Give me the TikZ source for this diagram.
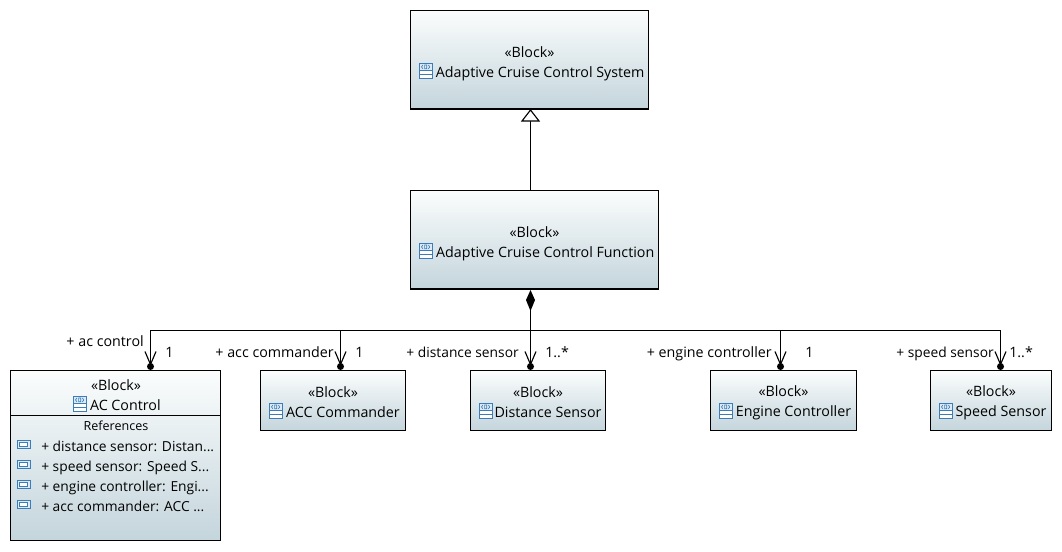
\documentclass[tikz,border=0pt]{standalone}
\usepackage{fontspec}
\setmainfont{Open Sans}
\usetikzlibrary{calc}
\definecolor{boxtop}{HTML}{FBFDFD}
\definecolor{boxbot}{HTML}{C4D5DC}
\definecolor{iconblue}{HTML}{3A7DB8}
\definecolor{iconfill}{HTML}{DCEAF5}
\newcommand{\lbl}{\fontsize{10.7pt}{15pt}\selectfont}
\newcommand{\lblitem}{\fontsize{10.35pt}{15pt}\selectfont}
\newcommand{\bigup}{\rule{0pt}{14pt}}
\newcommand{\smallup}{\rule{0pt}{11.2pt}}
\tikzset{
  x=0.75pt,y=-0.75pt,
  blockbox/.style={draw=black,line width=1pt,top color=boxtop,bottom color=boxbot,inner sep=0pt,outer sep=0pt,
    align=center,font=\lbl,anchor=north west},
  rolelabel/.style={font=\lbl,inner sep=0pt,anchor=base east,text=black},
  narrowrole/.style={rolelabel,font=\lblitem},
  multlabel/.style={font=\lbl,inner sep=0pt,anchor=base west,text=black},
  itemlabel/.style={font=\lblitem,inner sep=0pt,anchor=base west},
  conn/.style={draw=black,line width=0.85pt},
  blockicon/.pic={
    \draw[iconblue,line width=0.7pt,fill=white] (0,-7.5) rectangle (12.7,7.5);
    \fill[iconfill] (0.5,-7) rectangle (12.2,0);
    \draw[iconblue,line width=0.7pt] (0,0) -- (12.7,0) (0,3.7) -- (12.7,3.7);
    \draw[iconblue,line width=0.5pt] (3.6,-5.5) -- (2.2,-3.6) -- (3.6,-1.7) (9.1,-5.5) -- (10.5,-3.6) -- (9.1,-1.7) (5.3,-5.5) rectangle (7.4,-1.7);
  },
  refericon/.pic={
    \draw[iconblue,line width=0.8pt,fill=iconfill] (-6.4,-4) rectangle (6.4,4);
    \draw[iconblue,line width=0.6pt,fill=white] (-4,-1.8) rectangle (4,1.8);
  },
}
\newcommand{\conntip}[1]{%
  \draw[conn] ($(#1)+(-5.5,-19)$) -- ($(#1)+(0,-6)$) -- ($(#1)+(5.5,-19)$);
  \fill[black] ($(#1)+(0,-4)$) circle (3.5);
}
\begin{document}
\begin{tikzpicture}
\useasboundingbox (0,0) rectangle (1062,551);
% blocks
\node[blockbox,minimum width=178.5pt,minimum height=73.9pt] (sys) at (410.5,10.5)
  {\bigup«Block»\\\hspace{16pt}Adaptive Cruise Control System};
\node[blockbox,minimum width=186pt,minimum height=73.9pt] (fn) at (410.5,190.5)
  {\bigup«Block»\\\hspace{16pt}Adaptive Cruise Control Function};
\node[blockbox,minimum width=108.75pt,minimum height=45pt] (cmd) at (260.5,370.5)
  {\smallup«Block»\\\hspace{15pt}ACC Commander};
\node[blockbox,minimum width=101.25pt,minimum height=45pt] (dist) at (470.5,370.5)
  {\smallup«Block»\\\hspace{15pt}Distance Sensor};
\node[blockbox,minimum width=109.5pt,minimum height=45pt] (eng) at (710.5,370.5)
  {\smallup«Block»\\\hspace{15pt}Engine Controller};
\node[blockbox,minimum width=90.75pt,minimum height=45pt] (spd) at (930.5,370.5)
  {\smallup«Block»\\\hspace{15pt}Speed Sensor};
\node[blockbox,minimum width=157.5pt,minimum height=127.5pt] (ac) at (10.5,370.5) {};
\node[font=\lbl,align=center,inner sep=0pt] (actitle) at (116,395) {«Block»\\\hspace{14pt}AC Control};
\draw[black,line width=0.85pt] (10.5,415.5) -- (221,415.5);
\node[font=\fontsize{9.4pt}{12pt}\selectfont,inner sep=0pt] (refs) at (116,425.5) {References};
\node[itemlabel] (r1) at (41,451) {+ distance sensor: Distan...};
\node[itemlabel] (r2) at (41,471) {+ speed sensor: Speed S...};
\node[itemlabel] (r3) at (41,491) {+ engine controller: Engi...};
\node[itemlabel] (r4) at (41,511) {+ acc commander: ACC ...};
\pic at (23.7,444.5) {refericon};
\pic at (23.7,464.5) {refericon};
\pic at (23.7,484.5) {refericon};
\pic at (23.7,504.5) {refericon};
% icons
\pic at (419.3,70.5) {blockicon};
\pic at (419.3,250.5) {blockicon};
\pic at (73.3,403.5) {blockicon};
\pic at (269.3,410.5) {blockicon};
\pic at (479.3,410.5) {blockicon};
\pic at (719.3,410.5) {blockicon};
\pic at (939.3,410.5) {blockicon};
% connector anchors
\coordinate (gen) at (530.5,190.5);
\coordinate (gentop) at (530.5,121);
\coordinate (comp) at (530.5,290);
\coordinate (hub) at (530.5,330.5);
\coordinate (tac) at (150.5,370.5);
\coordinate (tcmd) at (340.5,370.5);
\coordinate (tdist) at (530.5,370.5);
\coordinate (teng) at (780.5,370.5);
\coordinate (tspd) at (1000.5,370.5);
% generalization
\draw[conn] (gen) -- (gentop);
\draw[conn,fill=white] (gentop) -- ++(-8.5,0) -- (530.5,110) -- (539,121) -- cycle;
% composition
\draw[conn] ($(comp)+(0,20)$) -- (tdist);
\draw[conn] ($(tac)+(0,-4)$) -- (hub -| tac) -- (hub -| tspd) -- ($(tspd)+(0,-4)$);
\draw[conn] (hub -| tcmd) -- ($(tcmd)+(0,-4)$);
\draw[conn] (hub -| teng) -- ($(teng)+(0,-4)$);
\fill[black] (comp) -- ++(-4.5,10) -- ++(4.5,11) -- ++(4.5,-11) -- cycle;
\conntip{tac}\conntip{tcmd}\conntip{tdist}\conntip{teng}\conntip{tspd}
% labels
\node[rolelabel] (l1) at (144,346) {+ ac control};
\node[multlabel] (m1) at (165,357) {1};
\node[rolelabel] (l2) at (334,357) {+ acc commander};
\node[multlabel] (m2) at (355,357) {1};
\node[narrowrole] (l3) at (519,357) {+ distance sensor};
\node[multlabel] (m3) at (545,357) {1..*};
\node[rolelabel] (l4) at (772,357) {+ engine controller};
\node[multlabel] (m4) at (805,357) {1};
\node[narrowrole] (l5) at (994,357) {+ speed sensor};
\node[multlabel] (m5) at (1009,357) {1..*};
\end{tikzpicture}
\end{document}
